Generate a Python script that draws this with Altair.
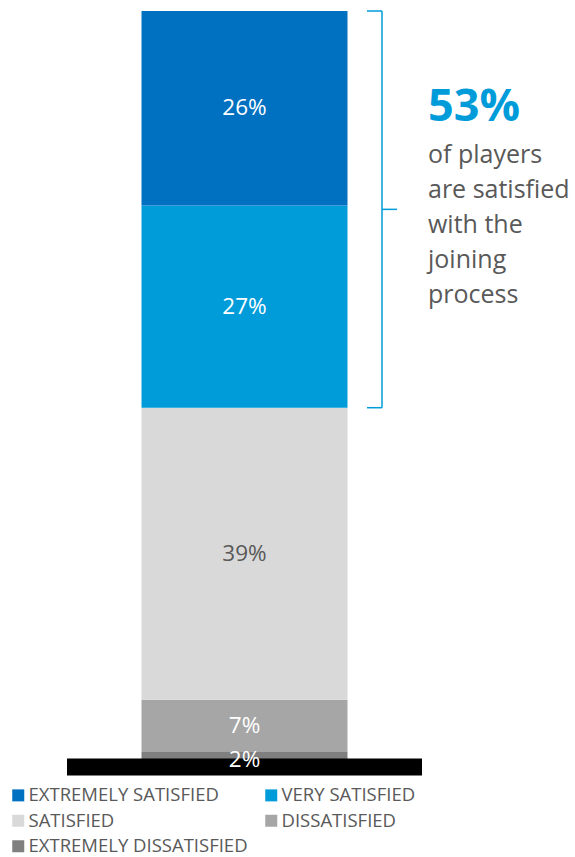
import altair as alt
import pandas as pd

categories = ["EXTREMELY SATISFIED", "VERY SATISFIED", "SATISFIED", "DISSATISFIED", "EXTREMELY DISSATISFIED"]
values = [26, 27, 39, 7, 2]
colors = ["#0070C0", "#009CDA", "#D9D9D9", "#A6A6A6", "#7F7F7F"]
label_colors = ["#FFFFFF", "#FFFFFF", "#595959", "#FFFFFF", "#FFFFFF"]
note_lines = ["of players", "are satisfied", "with the", "joining", "process"]

# stack from the bottom (last category) to the top (first category)
rows = []
lo = 0
for cat, val, lc in reversed(list(zip(categories, values, label_colors))):
    rows.append({"group": "all", "category": cat, "value": val, "lo": lo, "hi": lo + val,
                 "mid": lo + val / 2, "label": f"{val}%", "label_color": lc})
    lo += val
df = pd.DataFrame(rows)
total = sum(values)
sat_bottom = sum(values[2:])
sat_share = values[0] + values[1]
bracket = pd.DataFrame([{"top": total, "bottom": sat_bottom, "mid": (total + sat_bottom) / 2,
                         "base": 0, "headline": f"{sat_share}%"}])

FONT = "Open Sans"
BLUE = "#009CDA"

y_scale = alt.Scale(domain=[0, total], nice=False, zero=True)

bars = alt.Chart(df).mark_bar().encode(
    x=alt.X("group:N", scale=alt.Scale(paddingInner=0, paddingOuter=0.3617), axis=None),
    y=alt.Y("lo:Q", scale=y_scale, axis=None),
    y2="hi:Q",
    color=alt.Color("category:N",
                    scale=alt.Scale(domain=categories, range=colors),
                    legend=alt.Legend(orient="none", legendX=-58, legendY=775, columns=2,
                                      direction="horizontal",
                                      symbolType="square", symbolSize=144, symbolStrokeWidth=0,
                                      symbolOpacity=1, labelFontSize=18.5, labelColor="#595959",
                                      labelFont=FONT, rowPadding=6.5, columnPadding=14,
                                      labelOffset=1, title=None, padding=0, labelLimit=400)),
)

# thick black baseline at value 0
baseline = alt.Chart(bracket).mark_rule(color="#000000", strokeWidth=17).encode(
    x=alt.value(0), x2=alt.value(355), y=alt.Y("base:Q", scale=y_scale))

labels = alt.Chart(df).mark_text(font=FONT, fontSize=22.5, baseline="middle", align="center").encode(
    x=alt.X("group:N"),
    y=alt.Y("mid:Q", scale=y_scale),
    text="label:N",
    color=alt.Color("label_color:N", scale=None),
)

vline = alt.Chart(bracket).mark_rule(color=BLUE, strokeWidth=1.5).encode(
    x=alt.value(315), y=alt.Y("top:Q", scale=y_scale), y2="bottom:Q")
top_hook = alt.Chart(bracket).mark_rule(color=BLUE, strokeWidth=1.5).encode(
    x=alt.value(300), x2=alt.value(315), y=alt.Y("top:Q", scale=y_scale))
bottom_hook = alt.Chart(bracket).mark_rule(color=BLUE, strokeWidth=1.5).encode(
    x=alt.value(300), x2=alt.value(315), y=alt.Y("bottom:Q", scale=y_scale))
tip = alt.Chart(bracket).mark_rule(color=BLUE, strokeWidth=1.5).encode(
    x=alt.value(315), x2=alt.value(330), y=alt.Y("mid:Q", scale=y_scale))

headline = alt.Chart(bracket).mark_text(font=FONT, fontSize=45, fontWeight="bold", color=BLUE,
                                        align="left", baseline="alphabetic").encode(
    x=alt.value(361), y=alt.value(110), text="headline:N")

note = alt.Chart(bracket).mark_text(font=FONT, fontSize=25, color="#595959", align="left",
                                    baseline="alphabetic", lineHeight=35, text=note_lines).encode(
    x=alt.value(361), y=alt.value(152))

chart = alt.layer(bars, baseline, labels, vline, top_hook, bottom_hook, tip, headline, note).properties(
    width=355, height=756,
    autosize=alt.AutoSizeParams(type="none"),
    padding={"left": 67, "top": 11, "right": 153, "bottom": 90},
).configure(font=FONT, background="#FFFFFF").configure_view(stroke=None, strokeWidth=0)

chart.save("out.html", embed_options={"renderer": "svg", "actions": False})
